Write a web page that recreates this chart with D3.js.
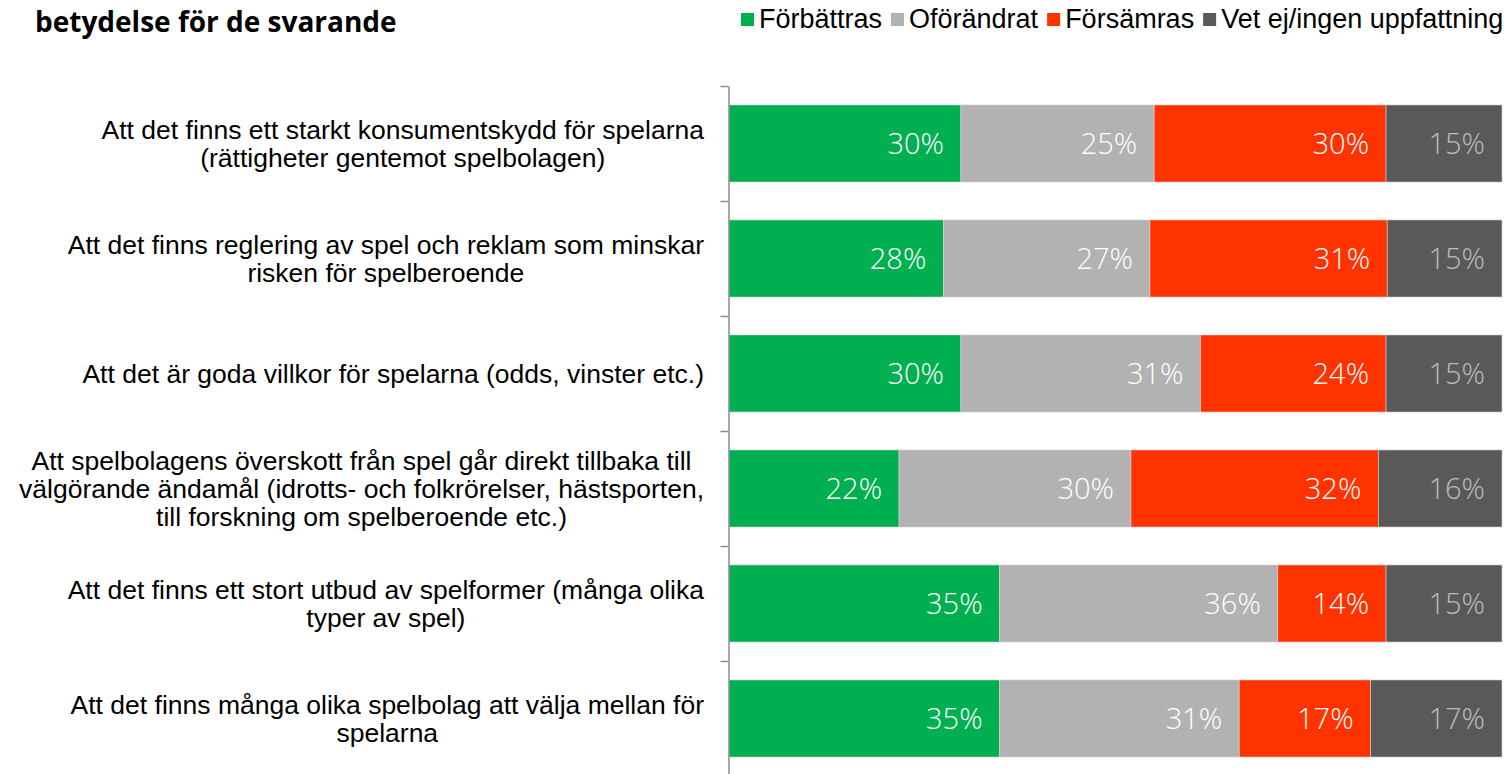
<!DOCTYPE html>
<html>
<head>
<meta charset="utf-8">
<script src="https://cdn.jsdelivr.net/npm/d3@7"></script>
<style>
  html, body { margin: 0; padding: 0; background: #fff; }
  svg { display: block; }
</style>
</head>
<body>
<svg id="chart" width="1504" height="774"></svg>
<script>
// ---- Data ----
const categories = [
  "Att det finns ett starkt konsumentskydd för spelarna\n(rättigheter gentemot spelbolagen)",
  "Att det finns reglering av spel och reklam som minskar\nrisken för spelberoende",
  "Att det är goda villkor för spelarna (odds, vinster etc.)",
  "Att spelbolagens överskott från spel går direkt tillbaka till\nvälgörande ändamål (idrotts- och folkrörelser, hästsporten,\ntill forskning om spelberoende etc.)",
  "Att det finns ett stort utbud av spelformer (många olika\ntyper av spel)",
  "Att det finns många olika spelbolag att välja mellan för\nspelarna"
];
const seriesNames = ["Förbättras", "Oförändrat", "Försämras", "Vet ej/ingen uppfattning"];
const forbattras = [30, 28, 30, 22, 35, 35];
const oforandrat = [25, 27, 31, 30, 36, 31];
const forsamras  = [30, 31, 24, 32, 14, 17];
const vetEj      = [15, 15, 15, 16, 15, 17];
const titleText = "betydelse för de svarande";

const colors = ["#00B050", "#B2B2B2", "#FF3300", "#595959"];
const labelColors = ["#ffffff", "#ffffff", "#ffffff", "#BDBDBD"];

// ---- Build table ----
const seriesValues = [forbattras, oforandrat, forsamras, vetEj];
const rows = categories.map((c, i) => {
  const r = { cat: c };
  seriesNames.forEach((s, j) => r[s] = seriesValues[j][i]);
  return r;
});
const stacked = d3.stack().keys(seriesNames).offset(d3.stackOffsetExpand)(rows);

const svg = d3.select("#chart");
const x = d3.scaleLinear().domain([0, 1]).range([729, 1502]);
const y = d3.scaleBand().domain(categories).range([86, 776]).paddingInner(0.33).paddingOuter(0.165);
const yEdge = d3.scaleLinear().domain([0, categories.length]).range([86, 776]);

// Bars
const g = svg.append("g");
stacked.forEach((layer, j) => {
  const lg = g.append("g").attr("fill", colors[j]);
  lg.selectAll("rect").data(layer).join("rect")
    .attr("x", d => x(d[0]))
    .attr("y", d => y(d.data.cat))
    .attr("width", d => x(d[1]) - x(d[0]))
    .attr("height", y.bandwidth())
    .attr("stroke", "#d4d4d4")
    .attr("stroke-width", 0.6);
  lg.selectAll("text").data(layer).join("text")
    .attr("x", d => x(d[1]) - 17)
    .attr("y", d => y(d.data.cat) + y.bandwidth() / 2)
    .attr("dy", "0.36em")
    .attr("text-anchor", "end")
    .attr("fill", labelColors[j])
    .style("font-family", "'Open Sans', 'Noto Sans', sans-serif")
    .style("font-weight", "300")
    .style("font-size", "29px")
    .text(d => d.data[seriesNames[j]] + "%");
});

// Axis
const axis = d3.axisLeft(yEdge).tickValues(d3.range(0, categories.length + 1)).tickSize(8).tickSizeOuter(0).tickFormat("");
const ag = svg.append("g").attr("transform", "translate(728.5,0)").call(axis);
ag.select(".domain").attr("stroke", "#8c8c8c").attr("stroke-width", 1.5);
ag.selectAll(".tick line").attr("stroke", "#8c8c8c").attr("stroke-width", 1.5);

// Category labels
const lineH = 28;
const labelRight = 704;
categories.forEach(c => {
  const lines = c.split("\n");
  const cy = y(c) + y.bandwidth() / 2;
  const tg = svg.append("g");
  const texts = lines.map((ln, i) => tg.append("text")
    .attr("y", cy + (i - (lines.length - 1) / 2) * lineH)
    .attr("dy", "0.36em")
    .attr("text-anchor", "middle")
    .attr("fill", "#000")
    .style("font-family", "'Liberation Sans', Arial, sans-serif")
    .style("font-size", "26.5px")
    .text(ln));
  const maxW = d3.max(texts, t => t.node().getComputedTextLength());
  texts.forEach(t => t.attr("x", labelRight - maxW / 2));
});

// Title
svg.append("text")
  .attr("x", 35).attr("y", 32)
  .attr("fill", "#000")
  .style("font-family", "'Open Sans', 'Noto Sans', sans-serif")
  .style("font-weight", "700")
  .style("font-size", "28px")
  .text(titleText);

// Legend
const lg = svg.append("g");
let lx = 741;
seriesNames.forEach((s, j) => {
  lg.append("rect").attr("x", lx).attr("y", 13).attr("width", 13).attr("height", 13).attr("fill", colors[j]);
  const t = lg.append("text").attr("x", lx + 18).attr("y", 27.5)
    .attr("fill", "#000")
    .style("font-family", "'Liberation Sans', Arial, sans-serif")
    .style("font-size", "27px")
    .text(s);
  lx += 18 + t.node().getComputedTextLength() + 9;
});
</script>
</body>
</html>
